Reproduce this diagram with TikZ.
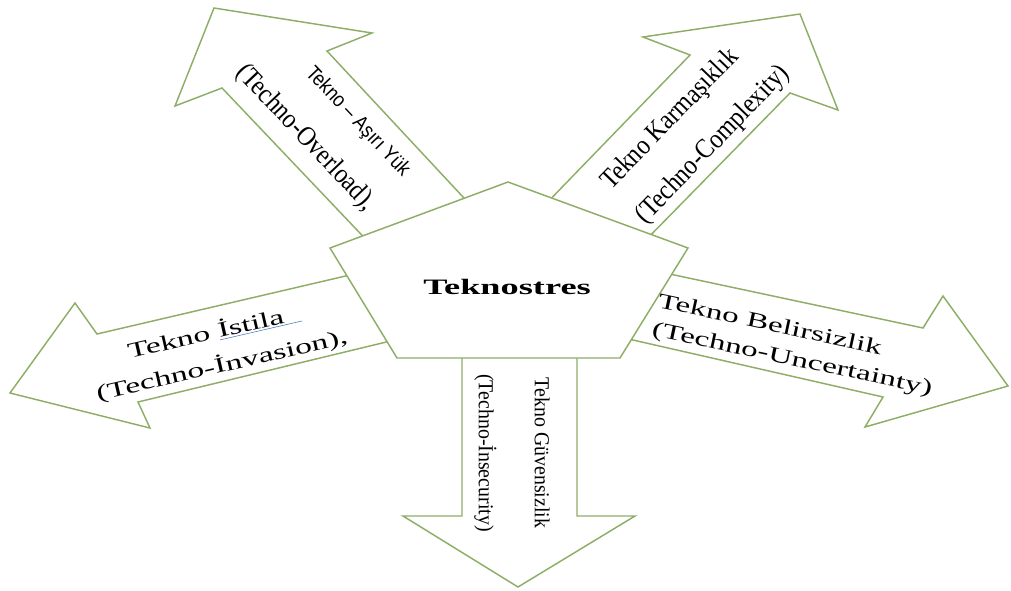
\documentclass[tikz,border=0pt]{standalone}
\usepackage{fontspec}
\setmainfont{Liberation Serif}
\newfontfamily\arialfont{Liberation Sans}
\usepackage{tikz}

\definecolor{arrowgreen}{RGB}{142,174,104}
\definecolor{spellblue}{RGB}{68,114,196}
\newcommand{\spellmark}[1]{{\color{spellblue}\underline{\color{black}#1}}}

\begin{document}
\begin{tikzpicture}[x=0.75pt, y=-0.75pt,
    arm/.style={draw=arrowgreen, fill=white, line width=1.1pt, line join=miter},
    armtext/.style={inner sep=0pt, font=\fontsize{16}{19}\selectfont}]
    \useasboundingbox (0,0) rectangle (1011,590);

    % the five block arrows, drawn behind the pentagon
    \draw[arm] (376,250) -- (222,88) -- (175,106) -- (214,8) -- (372,33) -- (327,51) -- (477,212) -- cycle;
    \draw[arm] (539,211) -- (690,55) -- (643,37) -- (800,14) -- (838,110) -- (790,93) -- (639,247) -- cycle;
    \draw[arm] (367,271) -- (97,334) -- (75,303) -- (10,393) -- (150,428) -- (138,402) -- (407,337) -- cycle;
    \draw[arm] (651,270) -- (923,328) -- (943,296) -- (1008,386) -- (865,427) -- (883,397) -- (611,335) -- cycle;
    \draw[arm] (462,340) -- (462,516) -- (403,516) -- (518,587) -- (635,516) -- (577,516) -- (577,340) -- cycle;

    % centre pentagon
    \draw[arm] (508,182) -- (688,248) -- (620,358) -- (397,358) -- (330,248) -- cycle;
    \node[inner sep=0pt, font=\fontsize{16.5}{19}\selectfont\bfseries, xscale=1.65] (core) at (507,287) {Teknostres};

    % arrow labels
    \node[armtext, align=right, rotate=-46.6, xscale=1.13, yscale=1.3] (overload) at (322,122)
        {{\arialfont\fontsize{12}{14}\selectfont Tekno – Aşırı Yük}\\[10pt](Techno-Overload),};
    \node[armtext, align=left, rotate=46, xscale=1.13, yscale=1.3] (complexity) at (696,128)
        {Tekno Karmaşıklık\\[8.7pt](Techno-Complexity)};
    \node[armtext, align=center, rotate=13, xscale=1.58] (invasion) at (218,349)
        {Tekno \spellmark{İstila\ \ }\\[6.5pt](Techno-İnvasion),};
    \node[armtext, align=left, rotate=-12, xscale=1.55] (uncertainty) at (795,346)
        {Tekno Belirsizlik\\[2.75pt](Techno-Uncertainty)};
    \node[armtext, align=center, rotate=-90, xscale=0.93] (insecurity) at (512,453)
        {Tekno Güvensizlik\\[23pt](Techno-İnsecurity)};
\end{tikzpicture}
\end{document}
